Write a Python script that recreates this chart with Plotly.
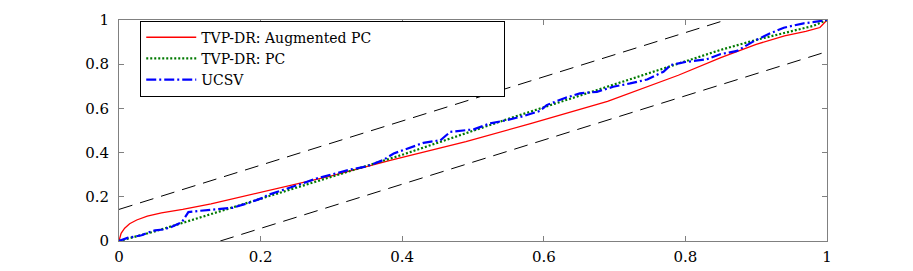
import plotly.graph_objects as go

# TVP-DR: Augmented PC (red)
aug_x = [0, 0.003, 0.008, 0.015, 0.025, 0.04, 0.06, 0.09, 0.13, 0.2, 0.3, 0.383,
         0.49, 0.58, 0.69, 0.79, 0.85, 0.9, 0.94, 0.97, 0.99, 1.0]
aug_y = [0, 0.035, 0.058, 0.078, 0.095, 0.113, 0.127, 0.143, 0.168, 0.221, 0.295, 0.365,
         0.45, 0.53, 0.632, 0.75, 0.83, 0.89, 0.928, 0.948, 0.966, 1.0]

# TVP-DR: PC (green dotted)
pc_x = [0, 0.05, 0.1, 0.15, 0.2, 0.25, 0.3, 0.35, 0.4, 0.45, 0.5, 0.55, 0.6, 0.65,
        0.7, 0.75, 0.8, 0.85, 0.9, 0.95, 0.98, 1.0]
pc_y = [0, 0.043, 0.092, 0.141, 0.19, 0.24, 0.29, 0.34, 0.39, 0.445, 0.5, 0.553, 0.605,
        0.657, 0.708, 0.762, 0.815, 0.865, 0.91, 0.95, 0.973, 1.0]

# UCSV (blue dash-dot)
ucsv_x = [0, 0.013, 0.022, 0.032, 0.041, 0.051, 0.062, 0.074, 0.089, 0.098, 0.115, 0.136,
          0.16, 0.183, 0.206, 0.209, 0.232, 0.256, 0.279, 0.303, 0.326, 0.35, 0.373,
          0.388, 0.406, 0.43, 0.454, 0.468, 0.501, 0.524, 0.548, 0.571, 0.595, 0.604,
          0.628, 0.651, 0.675, 0.698, 0.722, 0.746, 0.769, 0.779, 0.80, 0.83, 0.849,
          0.873, 0.897, 0.92, 0.939, 0.967, 0.98, 1.0]
ucsv_y = [0, 0.015, 0.02, 0.026, 0.038, 0.048, 0.052, 0.063, 0.086, 0.131, 0.137, 0.142,
          0.15, 0.172, 0.199, 0.207, 0.23, 0.257, 0.283, 0.305, 0.323, 0.338, 0.366,
          0.396, 0.418, 0.444, 0.456, 0.494, 0.505, 0.532, 0.547, 0.565, 0.589, 0.615,
          0.645, 0.668, 0.675, 0.698, 0.713, 0.731, 0.766, 0.796, 0.81, 0.822, 0.845,
          0.86, 0.905, 0.94, 0.965, 0.985, 0.99, 1.0]

# Kolmogorov-Smirnov style bands
band = 0.143
band_upper_x = [0, 1 - band]
band_upper_y = [band, 1]
band_lower_x = [band, 1]
band_lower_y = [0, 1 - band]

legend_names = ["TVP-DR: Augmented PC", "TVP-DR: PC", "UCSV"]
x_ticks = [0, 0.2, 0.4, 0.6, 0.8, 1]
y_ticks = [0, 0.2, 0.4, 0.6, 0.8, 1]

serif = "DejaVu Serif"

fig = go.Figure()
fig.add_trace(go.Scatter(x=aug_x, y=aug_y, mode="lines", name=legend_names[0],
                         line=dict(color="#ff0000", width=1.3)))
fig.add_trace(go.Scatter(x=pc_x, y=pc_y, mode="lines", name=legend_names[1],
                         line=dict(color="#007a00", width=2.2, dash="2px,2px")))
fig.add_trace(go.Scatter(x=ucsv_x, y=ucsv_y, mode="lines", name=legend_names[2],
                         line=dict(color="#0000ff", width=2.2, dash="10px,3px,2px,3px")))
fig.add_trace(go.Scatter(x=band_upper_x, y=band_upper_y, mode="lines", showlegend=False,
                         line=dict(color="black", width=1, dash="14px,8px")))
fig.add_trace(go.Scatter(x=band_lower_x, y=band_lower_y, mode="lines", showlegend=False,
                         line=dict(color="black", width=1, dash="14px,8px")))

axis_common = dict(
    range=[0, 1], showgrid=False, zeroline=False, showline=True, automargin=False,
    linecolor="#808080", linewidth=1, mirror="allticks",
    ticks="inside", ticklen=5, tickcolor="#808080", tickwidth=1,
    tickfont=dict(family=serif, size=15, color="black"),
)
fig.update_xaxes(tickvals=x_ticks, ticktext=[f"{v:g}" for v in x_ticks],
                 ticklabelstandoff=2, **axis_common)
fig.update_yaxes(tickvals=y_ticks, ticktext=[f"{v:g}" for v in y_ticks],
                 ticklabelstandoff=6, **axis_common)

fig.update_layout(
    width=913, height=271,
    margin=dict(l=119, r=86, t=20, b=30),
    plot_bgcolor="white", paper_bgcolor="white",
    legend=dict(x=0.03, y=0.997, xanchor="left", yanchor="top",
                orientation="h", entrywidthmode="fraction", entrywidth=0.505,
                bgcolor="white", bordercolor="black", borderwidth=1,
                font=dict(family=serif, size=14, color="black"),
                itemwidth=50, tracegroupgap=0),
    showlegend=True,
)

fig.write_html("out.html", config={"displayModeBar": False},
               post_script="document.body.style.margin='0';document.body.style.padding='0';")
